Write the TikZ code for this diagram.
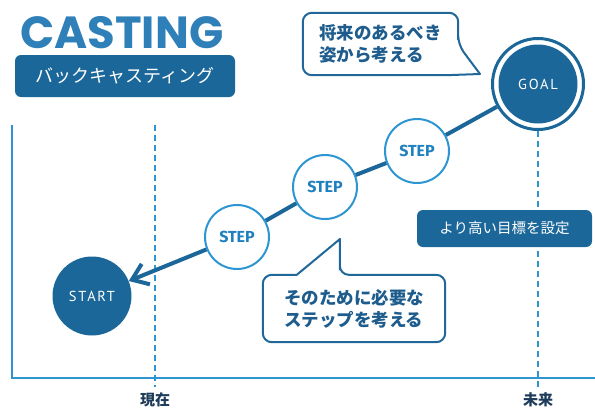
\documentclass[tikz,border=0pt]{standalone}
\usepackage{fontspec}
\setmainfont{Fira Sans}
\newfontfamily\jp{Noto Sans CJK JP}
\newfontfamily\titlefont{Poppins}
\newfontfamily\handfont[LetterSpace=12]{PT Sans}
\usetikzlibrary{arrows.meta,calc,positioning}
\definecolor{deepblue}{RGB}{27,103,153}
\definecolor{lineblue}{RGB}{45,150,210}
\definecolor{stepblue}{RGB}{31,128,192}
\definecolor{inkblue}{RGB}{29,92,140}
\definecolor{titleblue}{RGB}{47,127,184}
\definecolor{labelink}{RGB}{30,60,90}
\def\timeaxes{(12,125) -- (12,378) -- (595,378)}

\begin{document}
\begin{tikzpicture}[x=1pt,y=-1pt,
    every node/.style={inner sep=0pt},
    axisline/.style={lineblue,line width=2pt},
    timeline/.style={lineblue,line width=1.8pt,dash pattern=on 6pt off 4pt},
    stepnode/.style={circle,draw=lineblue,line width=2pt,fill=white,minimum size=64pt,text=stepblue,font=\bfseries\fontsize{16}{16}\selectfont},
    endnode/.style={circle,fill=deepblue,minimum size=79pt,text=white,font=\handfont\fontsize{14.5}{14.5}\selectfont},
    bubble/.style={draw=inkblue!80!lineblue,line width=2pt,fill=white,line join=round},
    bubbletext/.style={text=inkblue,font=\jp\bfseries\fontsize{17.5}{22}\selectfont,align=left},
    banner/.style={fill=deepblue,rounded corners=6pt,text=white},
    route/.style={deepblue,line width=4pt}]
  \useasboundingbox (0,0) rectangle (595,410);
  \draw[axisline] \timeaxes;
  \node[anchor=base west,text=titleblue,font=\titlefont\bfseries\fontsize{45}{45}\selectfont] (title) at (20,48) {CASTING};
  \node[banner,minimum width=220pt,minimum height=42pt,font=\jp\fontsize{18}{18}\selectfont] (subtitle) at (125,76) {バックキャスティング};
  \node[text=labelink,font=\jp\bfseries\fontsize{15}{15}\selectfont] (now) at (155,400) {現在};
  \node[text=labelink,font=\jp\bfseries\fontsize{15}{15}\selectfont] (future) at (538,400) {未来};
  \node[circle,draw=deepblue,line width=3pt,fill=white,minimum size=91pt] (goal) at (538,84) {};
  \node[endnode] (goalcore) at (goal.center) {GOAL};
  \node[endnode] (start) at (92,296) {START};
  \node[stepnode] (stepa) at (237,237) {STEP};
  \node[stepnode] (stepb) at (325,187) {STEP};
  \node[stepnode] (stepc) at (417,151) {STEP};
  \coordinate (nowtop) at (155,125);
  \draw[timeline] (nowtop) -- ([yshift=6pt]now.north);
  \draw[timeline] (goal.south) -- ([yshift=6pt]future.north);
  \draw[route] (goal) -- (stepc);
  \draw[route] (stepc) -- (stepb);
  \draw[route] (stepb) -- (stepa);
  \draw[route,-{Straight Barb[length=15pt,width=22pt]}] (stepa) -- (start);
  \node[bubbletext,minimum width=155pt,minimum height=62pt] (ideal) at (380.5,44) {};
  \draw[bubble] ([yshift=-32pt]ideal.north east) -- (480,74) -- ([xshift=-12pt]ideal.south east) [rounded corners=9pt] -- (ideal.south west) -- (ideal.north west) -- (ideal.north east) -- ([yshift=-32pt]ideal.north east) -- cycle;
  \node[bubbletext] (idealtext) at (ideal) {将来のあるべき\\姿から考える};
  \node[bubbletext,minimum width=182pt,minimum height=67pt] (needs) at (354,308.5) {};
  \draw[bubble] ([xshift=77pt]needs.north west) -- (340,239) -- ([xshift=34pt]needs.north west) [rounded corners=9pt] -- (needs.north west) -- (needs.south west) -- (needs.south east) -- (needs.north east) -- ([xshift=77pt]needs.north west) -- cycle;
  \node[bubbletext] (needstext) at (needs) {そのために必要な\\ステップを考える};
  \node[banner,minimum width=175pt,minimum height=37pt,font=\jp\fontsize{14.5}{14.5}\selectfont] (target) at (504.5,228.5) {より高い目標を設定};
\end{tikzpicture}
\end{document}
